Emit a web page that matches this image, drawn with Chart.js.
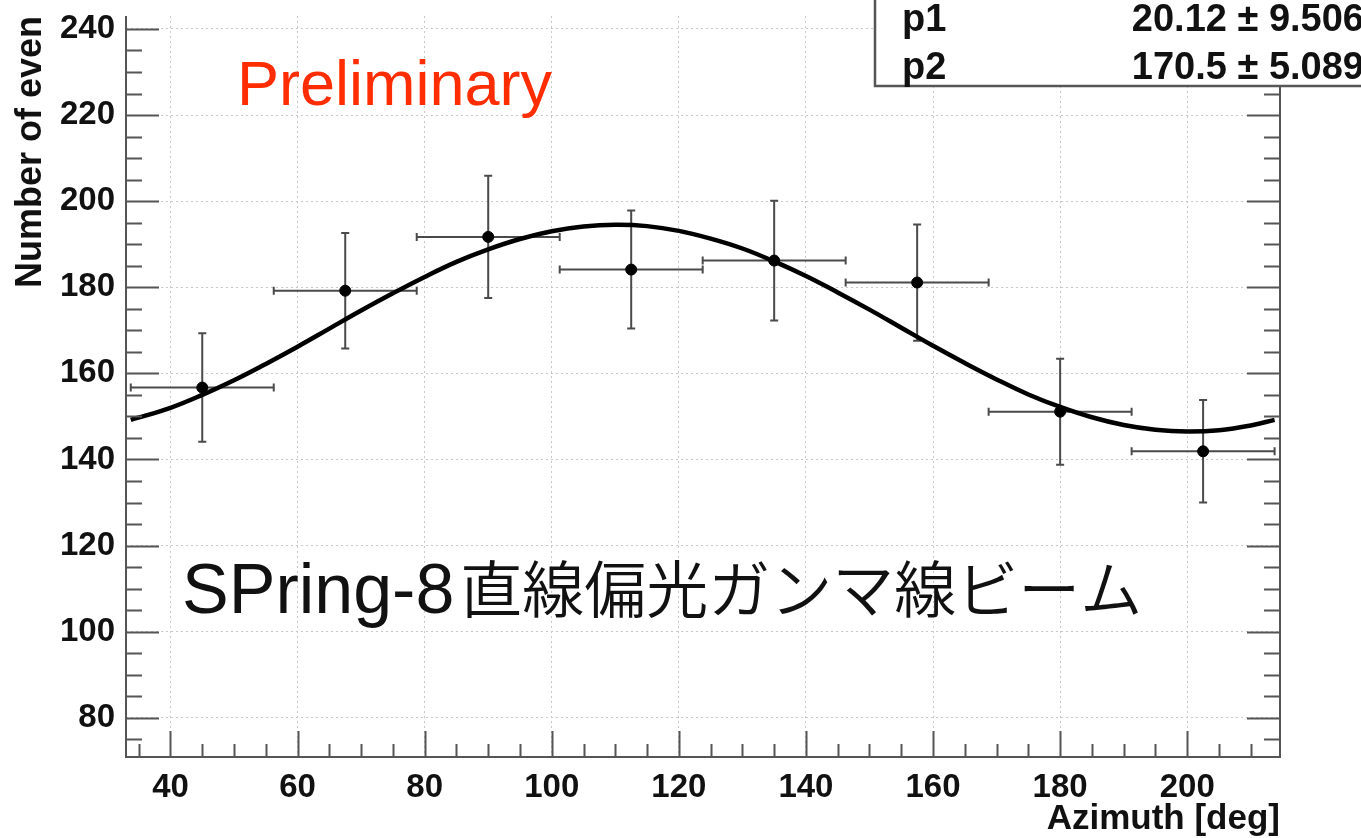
<!DOCTYPE html>
<html>
<head>
<meta charset="utf-8">
<script src="https://cdn.jsdelivr.net/npm/chart.js@4.4.1/dist/chart.umd.min.js"></script>
<style>
  html, body { margin: 0; padding: 0; background: #fff; }
  #wrap { width: 1361px; height: 838px; }
</style>
</head>
<body>
<div id="wrap"><canvas id="c" width="1361" height="838"></canvas></div>
<script>
// measured points (bin centre, counts, errors)
const binCenters = [45, 67.5, 90, 112.5, 135, 157.5, 180, 202.5];
const binHalfWidths = [11.25, 11.25, 11.25, 11.25, 11.25, 11.25, 11.25, 11.25];
const counts = [156.7, 179.2, 191.7, 184.1, 186.2, 181.1, 151.1, 141.9];
const countErrors = [12.6, 13.4, 14.2, 13.7, 13.9, 13.5, 12.3, 11.9];

// fit curve
const fitX = [33.75, 40, 45, 50, 55, 60, 65, 70, 75, 80, 85, 90, 95, 100, 105, 110, 115, 120,
  125, 130, 135, 140, 145, 150, 155, 160, 165, 170, 175, 180, 185, 190, 195, 200, 205, 210, 213.75];
const fitY = [149.2, 152.0, 155.0, 158.4, 162.2, 166.2, 170.4, 174.6, 178.6, 182.4, 185.9, 188.8, 191.2,
  193.0, 194.1, 194.5, 194.2, 193.1, 191.3, 189.0, 186.0, 182.6, 178.8, 174.8, 170.6, 166.4, 162.4,
  158.6, 155.1, 152.2, 149.8, 148.0, 146.9, 146.5, 146.8, 147.9, 149.2];

// axis ticks
const xTicks = [40, 60, 80, 100, 120, 140, 160, 180, 200];
const yTicks = [80, 100, 120, 140, 160, 180, 200, 220, 240];

// fit parameters shown in the stats box
const statNames = ['p1', 'p2'];
const statValues = ['20.12 \u00b1 9.506', '170.5 \u00b1 5.089'];

const FONT = "'Liberation Sans', Arial, Helvetica, sans-serif";

// error bars drawn under the points
const errorBars = {
  id: 'errorBars',
  beforeDatasetsDraw(chart) {
    const {ctx, scales: {x, y}} = chart;
    ctx.save();
    ctx.strokeStyle = '#4a4a4a';
    ctx.lineWidth = 2;
    ctx.beginPath();
    binCenters.forEach((c, i) => {
      const px = x.getPixelForValue(c);
      const py = y.getPixelForValue(counts[i]);
      const x0 = x.getPixelForValue(c - binHalfWidths[i]);
      const x1 = x.getPixelForValue(c + binHalfWidths[i]);
      const y0 = y.getPixelForValue(counts[i] - countErrors[i]);
      const y1 = y.getPixelForValue(counts[i] + countErrors[i]);
      ctx.moveTo(x0, py); ctx.lineTo(x1, py);
      ctx.moveTo(px, y0); ctx.lineTo(px, y1);
      ctx.moveTo(px - 4, y0); ctx.lineTo(px + 4, y0);
      ctx.moveTo(px - 4, y1); ctx.lineTo(px + 4, y1);
      ctx.moveTo(x0, py - 4); ctx.lineTo(x0, py + 4);
      ctx.moveTo(x1, py - 4); ctx.lineTo(x1, py + 4);
    });
    ctx.stroke();
    ctx.restore();
  }
};

// ROOT style frame: ticks pointing inwards
const frameTicks = {
  id: 'frameTicks',
  afterDatasetsDraw(chart) {
    const {ctx, chartArea: a, scales: {x, y}} = chart;
    ctx.save();
    ctx.strokeStyle = '#555';
    ctx.lineWidth = 2;
    ctx.beginPath();
    for (let v = 75; v <= y.max; v += 5) {
      const py = Math.round(y.getPixelForValue(v)) + 0.5;
      const len = v % 20 === 0 ? 33 : 16;
      ctx.moveTo(a.left, py); ctx.lineTo(a.left + len, py);
      ctx.moveTo(a.right, py); ctx.lineTo(a.right - len, py);
    }
    for (let v = 35; v <= x.max; v += 5) {
      const px = Math.round(x.getPixelForValue(v)) + 0.5;
      const len = v % 20 === 0 ? 26 : 13;
      ctx.moveTo(px, a.bottom); ctx.lineTo(px, a.bottom - len);
    }
    ctx.moveTo(a.left, a.top); ctx.lineTo(a.left, a.bottom);
    ctx.lineTo(a.right, a.bottom); ctx.lineTo(a.right, a.top);
    ctx.stroke();
    ctx.restore();
  }
};

// texts and stats box
const overlay = {
  id: 'overlay',
  afterDraw(chart) {
    const ctx = chart.ctx;
    ctx.save();
    ctx.fillStyle = '#ff2d00';
    ctx.font = '63px ' + FONT;
    ctx.textBaseline = 'alphabetic';
    ctx.fillText('Preliminary', 237, 105);

    // latin part in a Helvetica-like face, kana/kanji in Noto CJK
    ctx.fillStyle = '#111';
    ctx.font = '70px ' + FONT;
    ctx.fillText('SPring-8', 182, 613);
    const w = ctx.measureText('SPring-8').width;
    ctx.font = "350 62px 'Noto Sans CJK JP', sans-serif";
    ctx.fillText('直線偏光ガンマ線ビーム', 182 + w + 6, 613);

    // stats box
    ctx.fillStyle = '#fff';
    ctx.strokeStyle = '#555';
    ctx.lineWidth = 2.5;
    ctx.fillRect(875, -10, 500, 96);
    ctx.strokeRect(875, -10, 500, 96);
    ctx.fillStyle = '#111';
    ctx.font = 'bold 38px ' + FONT;
    statNames.forEach((n, i) => {
      const base = 31 + i * 48;
      ctx.textAlign = 'left';
      ctx.fillText(n, 902, base);
      ctx.textAlign = 'right';
      ctx.fillText(statValues[i], 1364, base);
    });
    ctx.restore();
  }
};

new Chart(document.getElementById('c'), {
  data: {
    datasets: [
      {
        type: 'line',
        data: fitX.map((v, i) => ({x: v, y: fitY[i]})),
        borderColor: '#000',
        borderWidth: 4.5,
        pointRadius: 0,
        tension: 0.4,
        fill: false,
        order: 1
      },
      {
        type: 'scatter',
        data: binCenters.map((v, i) => ({x: v, y: counts[i]})),
        backgroundColor: '#000',
        borderColor: '#000',
        pointRadius: 5.5,
        order: 2
      }
    ]
  },
  options: {
    responsive: false,
    animation: false,
    layout: { padding: { top: 16, right: 81, left: 0, bottom: 0 } },
    plugins: { legend: { display: false }, tooltip: { enabled: false } },
    scales: {
      x: {
        type: 'linear',
        min: 33,
        max: 214.6,
        afterBuildTicks: s => { s.ticks = xTicks.map(v => ({value: v})); },
        afterFit: s => { s.height = 81; s.paddingLeft = 0; s.paddingRight = 0; },
        grid: { color: '#c8c8c8', lineWidth: 1, drawTicks: false },
        border: { display: false, dash: [2, 3] },
        ticks: { padding: 11, color: '#111', font: { family: FONT, size: 33, weight: 'bold' } },
        title: {
          display: true, text: 'Azimuth [deg]', align: 'end', color: '#111',
          padding: { top: 0, bottom: 1 },
          font: { family: FONT, size: 35, weight: 'bold', lineHeight: 1 }
        }
      },
      y: {
        type: 'linear',
        min: 70.9,
        max: 243,
        afterBuildTicks: s => { s.ticks = yTicks.map(v => ({value: v})); },
        afterFit: s => { s.width = 126; s.paddingTop = 0; s.paddingBottom = 0; },
        grid: { color: '#c8c8c8', lineWidth: 1, drawTicks: false },
        border: { display: false, dash: [2, 3] },
        ticks: { padding: 11, color: '#111', font: { family: FONT, size: 33, weight: 'bold' } },
        title: {
          display: true, text: 'Number of even', align: 'end', color: '#111',
          padding: { top: 13, bottom: 0 },
          font: { family: FONT, size: 36, weight: 'bold', lineHeight: 1 }
        }
      }
    }
  },
  plugins: [errorBars, frameTicks, overlay]
});
</script>
</body>
</html>
